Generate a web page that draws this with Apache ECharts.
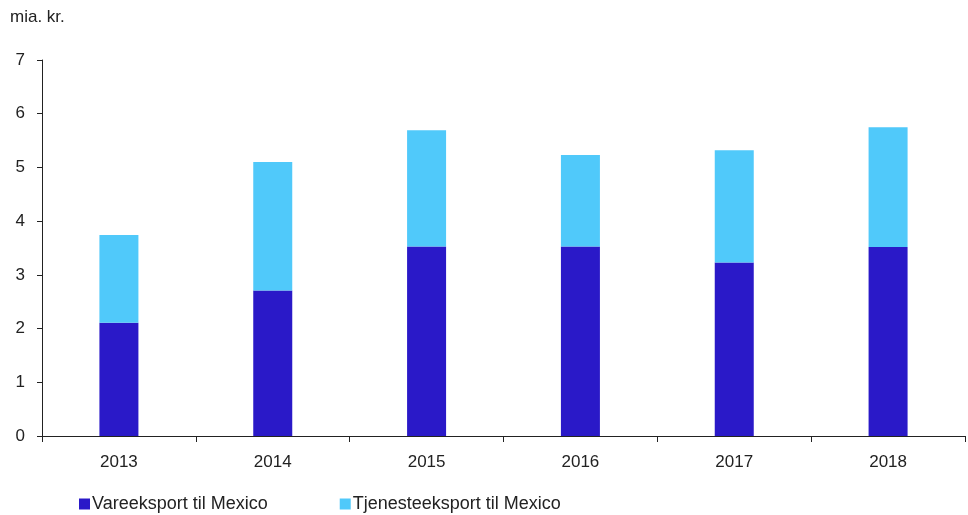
<!DOCTYPE html>
<html><head><meta charset="utf-8">
<script src="https://cdn.jsdelivr.net/npm/echarts@6/dist/echarts.min.js"></script>
<style>html,body{margin:0;padding:0;background:#fff}#c{width:968px;height:515px}</style>
</head><body><div id="c"></div>
<script>
const categories = ['2013','2014','2015','2016','2017','2018'];
const vareeksport = [2.11, 2.71, 3.53, 3.53, 3.23, 3.52];
const tjenesteeksport = [1.63, 2.39, 2.16, 1.70, 2.09, 2.23];
const seriesNames = ['Vareeksport til Mexico', 'Tjenesteeksport til Mexico'];
const unitLabel = 'mia. kr.';

const font = 'Liberation Sans';
const chart = echarts.init(document.getElementById('c'));
chart.setOption({
  animation: false,
  textStyle: { fontFamily: font },
  grid: { left: 42, right: 3, top: 60, bottom: 79, containLabel: false },
  graphic: [{ type: 'text', left: 10, top: 9, style: { text: unitLabel, font: '17px ' + font, fill: '#222' } }],
  legend: {
    bottom: -3, left: 74, itemWidth: 11, itemHeight: 11, itemGap: 72,
    icon: 'rect',
    textStyle: { fontSize: 18, color: '#222', padding: [0, 0, 0, -3] },
    data: seriesNames
  },
  xAxis: {
    type: 'category', data: categories,
    axisLine: { lineStyle: { color: '#222', width: 1 } },
    axisTick: { show: true, length: 6, lineStyle: { color: '#222' } },
    axisLabel: { color: '#222', fontSize: 17, margin: 18 }
  },
  yAxis: {
    type: 'value', min: 0, max: 7, interval: 1,
    splitLine: { show: false },
    axisLine: { show: true, lineStyle: { color: '#222' } },
    axisTick: { show: true, length: 5, lineStyle: { color: '#222' } },
    axisLabel: { color: '#222', fontSize: 17, margin: 17 }
  },
  series: [
    { name: seriesNames[0], type: 'bar', stack: 't', data: vareeksport, barWidth: 39, itemStyle: { color: '#2a19c8' } },
    { name: seriesNames[1], type: 'bar', stack: 't', data: tjenesteeksport, barWidth: 39, itemStyle: { color: '#50c9fa' } }
  ]
});
</script></body></html>
